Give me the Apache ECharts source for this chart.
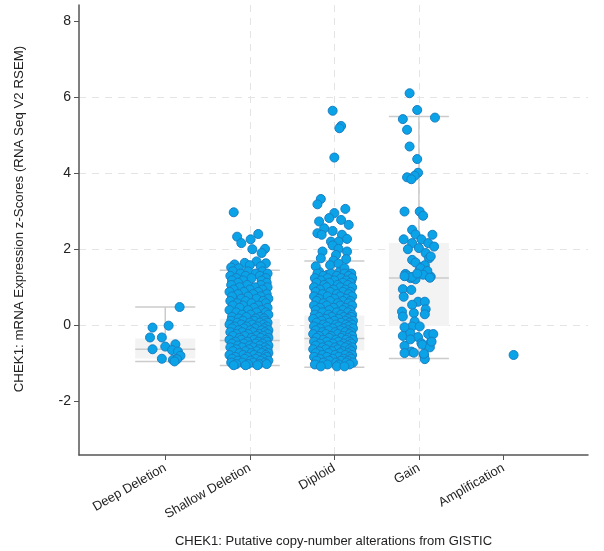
<!DOCTYPE html>
<html><head><meta charset="utf-8">
<script src="https://cdn.jsdelivr.net/npm/echarts@6/dist/echarts.min.js"></script>
<style>html,body{margin:0;padding:0;background:#fff}#c{width:604px;height:551px}</style>
</head><body><div id="c"></div>
<script>
// ---------- data ----------
const categories = ['Deep Deletion', 'Shallow Deletion', 'Diploid', 'Gain', 'Amplification'];
const yTicks = [-2, 0, 2, 4, 6, 8];
const xTicks = [0, 1, 2, 3, 4];
const xTitle = 'CHEK1: Putative copy-number alterations from GISTIC';
const yTitle = 'CHEK1: mRNA Expression z-Scores (RNA Seq V2 RSEM)';

// box stats: [min, Q1, median, Q3, max]
const boxDeep = [-0.95, -0.87, -0.63, -0.35, 0.48];
const boxShallow = [-1.06, -0.66, -0.40, 0.17, 1.45];
const boxDiploid = [-1.10, -0.66, -0.35, 0.26, 1.69];
const boxGain = [-0.87, -0.02, 1.24, 2.16, 5.49];

// points: [jitter offset, z-score]
const deepPts = [[0.17,0.48],[0.04,-0.01],[-0.15,-0.06],[-0.18,-0.32],[-0.04,-0.32],[-0.15,-0.63],[0.00,-0.56],
  [0.12,-0.50],[0.08,-0.65],[0.15,-0.69],[0.18,-0.80],[-0.04,-0.88],[0.09,-0.91],[0.14,-0.89],[0.11,-0.95]];

const shallowPts = [[-0.19,2.97],[-0.15,2.33],[-0.10,2.16],[0.01,2.26],[0.10,2.40],[0.03,2.00],[0.18,2.01],
  [0.14,1.90],[0.19,1.63],[0.08,1.68],[-0.18,1.60],[-0.06,1.64],[0.00,1.58],[-0.22,1.52],[0.13,1.55],[-0.13,1.50]];
// dense rows: [z-score, [jitter offsets]]
const shallowRows = [
  [1.42,[-0.20,-0.02,0.15]],[1.36,[-0.11,0.07,0.21]],[1.30,[-0.23,-0.05,0.12]],[1.24,[-0.16,0.02,0.19]],
  [1.18,[-0.21,-0.08,0.14]],[1.12,[-0.14,0.20]],[1.06,[-0.22,-0.03,0.13]],[1.00,[-0.12,0.06,0.21]],
  [0.94,[-0.19,0.00,0.15]],[0.88,[-0.24,-0.07,0.10]],[0.82,[-0.14,0.04,0.20]],[0.76,[-0.21,-0.02,0.13]],
  [0.70,[-0.10,0.08,0.22]],[0.64,[-0.23,-0.05,0.16]],[0.58,[-0.15,0.02,0.19]],[0.52,[-0.20,-0.08,0.10]],
  [0.46,[-0.12,0.05,0.21]],[0.40,[-0.24,-0.02,0.14]],[0.34,[-0.16,0.08,0.19]],[0.28,[-0.09,0.01,0.22]],
  [0.22,[-0.21,-0.04,0.12]],[0.18,[-0.13,0.07,0.17]],
  [0.12,[-0.22,-0.08,0.05,0.18]],[0.07,[-0.15,0.00,0.12,0.21]],[0.02,[-0.24,-0.10,0.03,0.16]],
  [-0.03,[-0.18,-0.04,0.09,0.20]],[-0.08,[-0.21,-0.07,0.06,0.17]],[-0.13,[-0.13,0.01,0.14,0.22]],
  [-0.18,[-0.23,-0.09,0.04,0.18]],[-0.23,[-0.16,-0.02,0.11,0.21]],[-0.28,[-0.20,-0.06,0.08,0.16]],
  [-0.33,[-0.12,0.02,0.13,0.22]],[-0.38,[-0.24,-0.10,0.05,0.19]],[-0.43,[-0.17,-0.03,0.10,0.20]],
  [-0.48,[-0.21,-0.07,0.07,0.15]],[-0.53,[-0.14,0.00,0.12,0.22]],[-0.58,[-0.23,-0.09,0.04,0.18]],
  [-0.63,[-0.16,-0.01,0.11,0.21]],[-0.68,[-0.20,-0.05,0.08,0.17]],[-0.73,[-0.12,0.02,0.14,0.22]],
  [-0.78,[-0.24,-0.08,0.05,0.19]],[-0.83,[-0.17,-0.03,0.10,0.20]],[-0.88,[-0.21,-0.06,0.07,0.16]],
  [-0.93,[-0.14,0.01,0.13,0.22]],[-0.98,[-0.22,-0.09,0.04,0.18]],[-1.02,[-0.16,-0.02,0.11,0.20]],
  [-1.05,[-0.19,-0.05,0.09]]];

const diploidPts = [[-0.02,5.64],[0.08,5.24],[0.06,5.18],[0.00,4.41],[-0.16,3.32],[-0.20,3.18],[0.13,3.06],
  [0.00,2.95],[-0.06,2.82],[0.08,2.77],[-0.18,2.73],[0.17,2.64],[-0.12,2.55],[-0.02,2.48],[-0.20,2.42],
  [-0.15,2.38],[0.09,2.38],[0.15,2.27],[-0.04,2.20],[0.05,2.20],[-0.02,2.10],[0.05,2.01],[-0.14,1.94],
  [0.15,1.94],[0.02,1.85],[-0.16,1.76],[0.14,1.74],[-0.01,1.70],[-0.05,1.58],[0.05,1.62],[-0.18,1.41],
  [-0.15,1.28],[-0.21,1.19],[0.18,1.35],[0.20,1.17],[0.06,1.40],[-0.08,1.33],[0.12,1.50],[-0.22,1.55]];
const diploidRows = [
  [1.36,[-0.20,-0.04,0.12,0.20]],[1.30,[-0.13,0.03,0.17]],[1.24,[-0.23,-0.08,0.08,0.21]],[1.18,[-0.16,0.00,0.14]],
  [1.12,[-0.21,-0.06,0.10,0.19]],[1.06,[-0.12,0.04,0.16]],[1.00,[-0.24,-0.09,0.07,0.21]],[0.94,[-0.17,-0.01,0.13]],
  [0.88,[-0.22,-0.05,0.10,0.19]],[0.82,[-0.14,0.03,0.17]],[0.76,[-0.24,-0.08,0.07,0.21]],[0.70,[-0.18,0.00,0.14]],
  [0.64,[-0.21,-0.05,0.10,0.19]],[0.58,[-0.13,0.04,0.17]],[0.52,[-0.24,-0.09,0.07,0.21]],[0.46,[-0.17,-0.01,0.13]],
  [0.40,[-0.22,-0.06,0.10,0.19]],[0.34,[-0.14,0.03,0.16]],[0.28,[-0.23,-0.07,0.08,0.21]],
  [0.22,[-0.18,-0.03,0.11,0.20]],[0.17,[-0.25,-0.10,0.05,0.16]],[0.12,[-0.15,0.00,0.13,0.22]],
  [0.07,[-0.21,-0.06,0.08,0.18]],[0.02,[-0.13,0.02,0.14,0.21]],[-0.03,[-0.24,-0.09,0.05,0.17]],
  [-0.08,[-0.17,-0.02,0.11,0.22]],[-0.13,[-0.22,-0.07,0.07,0.16]],[-0.18,[-0.14,0.01,0.13,0.20]],
  [-0.23,[-0.25,-0.10,0.04,0.18]],[-0.28,[-0.18,-0.04,0.10,0.21]],[-0.33,[-0.21,-0.06,0.08,0.16]],
  [-0.38,[-0.13,0.02,0.14,0.22]],[-0.43,[-0.24,-0.09,0.05,0.18]],[-0.48,[-0.17,-0.02,0.11,0.20]],
  [-0.53,[-0.22,-0.07,0.07,0.16]],[-0.58,[-0.14,0.01,0.13,0.21]],[-0.63,[-0.25,-0.10,0.04,0.18]],
  [-0.68,[-0.18,-0.03,0.10,0.20]],[-0.73,[-0.22,-0.07,0.07,0.16]],[-0.78,[-0.14,0.01,0.13,0.21]],
  [-0.83,[-0.24,-0.09,0.05,0.18]],[-0.88,[-0.17,-0.02,0.11,0.20]],[-0.93,[-0.21,-0.06,0.08,0.16]],
  [-0.98,[-0.13,0.02,0.14,0.22]],[-1.03,[-0.23,-0.08,0.05,0.18]],[-1.08,[-0.16,0.03,0.12]]];

const gainPts = [[-0.11,6.10],[-0.02,5.66],[-0.19,5.42],[0.19,5.46],[-0.14,5.14],[-0.11,4.70],[-0.02,4.37],
  [-0.01,4.01],[-0.05,3.93],[-0.14,3.89],[-0.09,3.84],[-0.17,2.99],[0.01,2.99],[0.05,2.88],[-0.08,2.51],
  [-0.04,2.39],[-0.18,2.26],[0.16,2.38],[0.03,2.26],[0.11,2.16],[-0.08,2.16],[0.18,2.07],[-0.13,2.00],
  [0.00,2.03],[0.08,1.90],[0.12,1.76],[0.14,1.81],[-0.08,1.72],[-0.04,1.65],[0.04,1.54],[0.07,1.58],
  [0.14,1.28],[-0.16,1.35],[-0.10,1.24],[0.01,1.46],[0.06,1.40],[0.11,1.30],[-0.04,1.21],[-0.14,1.31],
  [-0.08,1.27],[0.02,1.50],[0.10,1.43],[-0.17,1.29],[0.05,1.33],[0.13,1.25],[-0.02,1.36],
  [-0.19,0.95],[-0.09,0.93],[-0.18,0.75],[-0.01,0.62],[0.07,0.62],[-0.08,0.54],[0.08,0.42],[-0.20,0.36],
  [-0.06,0.32],[0.07,0.29],[-0.19,0.23],[-0.05,0.10],[-0.08,-0.03],[0.01,-0.03],[-0.17,-0.05],
  [-0.19,-0.28],[-0.10,-0.21],[-0.01,-0.31],[0.11,-0.23],[0.17,-0.23],[-0.17,-0.54],[-0.10,-0.37],
  [0.03,-0.47],[0.14,-0.45],[-0.09,-0.69],[-0.06,-0.72],[0.06,-0.78],[0.07,-0.89],[-0.17,-0.73],
  [0.04,-0.51],[0.13,-0.58],[0.06,-0.75],[0.15,-0.43]];

const amplPts = [[0.12,-0.78]];

// ---------- build ----------
const groups = [[deepPts, []], [shallowPts, shallowRows], [diploidPts, diploidRows], [gainPts, []], [amplPts, []]];
const boxes = [boxDeep, boxShallow, boxDiploid, boxGain];
const scatterData = [];
groups.forEach((g, i) => {
  g[0].forEach(p => scatterData.push([i + p[0], p[1]]));
  g[1].forEach(r => r[1].forEach(o => scatterData.push([i + o, r[0]])));
});
const boxData = boxes.map((b, i) => [i].concat(b));

const chart = echarts.init(document.getElementById('c'), null, {renderer: 'canvas'});
const gridLine = {show: true, lineStyle: {color: '#e4e4e4', type: [7, 6], width: 1}};
const LINE = '#cbcbcb';
const FONT = 'Liberation Sans, Arial, sans-serif';
chart.setOption({
  animation: false,
  backgroundColor: '#fff',
  grid: {left: 79, right: 16, top: 5, bottom: 96, containLabel: false, outerBoundsMode: 'none'},
  xAxis: {
    type: 'value', min: -1.02, max: 5,
    name: xTitle, nameLocation: 'middle', nameGap: 80,
    nameTextStyle: {fontSize: 13, color: '#222', fontFamily: FONT},
    axisLine: {show: true, onZero: false, lineStyle: {color: '#555', width: 1.5}},
    axisTick: {show: true, length: 5, customValues: xTicks, lineStyle: {color: '#555'}},
    axisLabel: {customValues: xTicks, rotate: 30, fontSize: 13, color: '#222', margin: 12,
      fontFamily: FONT,
      formatter: v => categories[Math.round(v)] || ''},
    splitLine: Object.assign({showMinLine: false, showMaxLine: false}, gridLine)
  },
  yAxis: {
    type: 'value', min: -3.41, max: 8.42,
    axisLine: {show: true, onZero: false, lineStyle: {color: '#555', width: 1.5}},
    axisTick: {show: true, length: 5, customValues: yTicks, lineStyle: {color: '#555'}},
    axisLabel: {customValues: yTicks, fontSize: 14, color: '#222', margin: 8, fontFamily: FONT},
    splitLine: Object.assign({showMinLine: false, showMaxLine: false}, gridLine)
  },
  graphic: [{
    type: 'text', x: 19, y: 219, rotation: Math.PI / 2,
    style: {text: yTitle, fontSize: 13.3, fill: '#222', align: 'center', verticalAlign: 'middle', fontFamily: FONT}
  }],
  series: [{
    type: 'custom',
    data: boxData,
    z: 1,
    silent: true,
    encode: {x: 0, y: [1, 2, 3, 4, 5]},
    renderItem: function (params, api) {
      const x = api.value(0);
      const mn = api.coord([x, api.value(1)]);
      const q1 = api.coord([x, api.value(2)]);
      const md = api.coord([x, api.value(3)]);
      const q3 = api.coord([x, api.value(4)]);
      const mx = api.coord([x, api.value(5)]);
      const w = api.size([0.71, 0])[0];
      const l = mn[0] - w / 2, r = mn[0] + w / 2;
      const ls = {stroke: LINE, lineWidth: 1.5};
      return {type: 'group', children: [
        {type: 'rect', shape: {x: l, y: q3[1], width: w, height: q1[1] - q3[1]}, style: {fill: '#f3f3f3'}},
        {type: 'line', shape: {x1: mx[0], y1: mx[1], x2: q3[0], y2: q3[1]}, style: ls},
        {type: 'line', shape: {x1: q1[0], y1: q1[1], x2: mn[0], y2: mn[1]}, style: ls},
        {type: 'line', shape: {x1: l, y1: mx[1], x2: r, y2: mx[1]}, style: ls},
        {type: 'line', shape: {x1: l, y1: mn[1], x2: r, y2: mn[1]}, style: ls},
        {type: 'line', shape: {x1: l, y1: md[1], x2: r, y2: md[1]}, style: ls}
      ]};
    }
  }, {
    type: 'scatter',
    data: scatterData,
    z: 3,
    symbolSize: 9,
    itemStyle: {color: '#0aa3e8', borderColor: '#1a7fc2', borderWidth: 1, opacity: 1}
  }]
});
</script>
</body></html>
